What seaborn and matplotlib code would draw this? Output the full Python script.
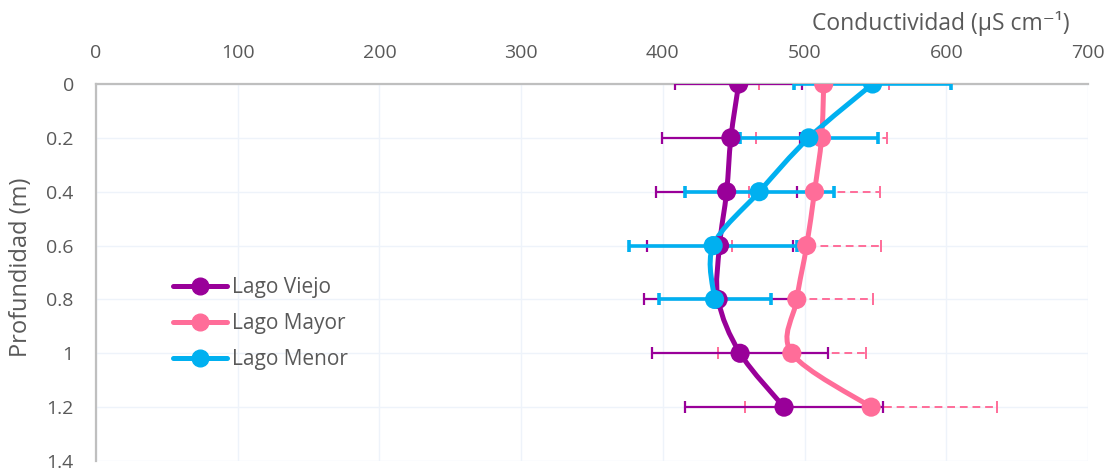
import numpy as np
import pandas as pd
import matplotlib
matplotlib.use("Agg")
import matplotlib.pyplot as plt
from matplotlib.path import Path
from matplotlib.patches import PathPatch
from matplotlib.lines import Line2D
import seaborn as sns

# Depth profile of conductivity (mean ± sd) for three lakes
depth = [0.0, 0.2, 0.4, 0.6, 0.8, 1.0, 1.2]

viejo_mean = [453.5, 448.0, 445.0, 440.0, 439.0, 454.5, 485.5]
viejo_sd = [45.0, 48.5, 49.5, 51.5, 52.0, 62.0, 70.0]

mayor_mean = [513.5, 512.0, 507.0, 501.5, 494.5, 491.0, 547.0]
mayor_sd = [46.0, 46.0, 46.5, 52.5, 53.5, 52.0, 89.0]

menor_depth = [0.0, 0.2, 0.4, 0.6, 0.8]
menor_mean = [548.0, 503.0, 468.0, 435.5, 436.5]
menor_sd = [55.5, 48.5, 52.5, 59.5, 39.5]

series_names = ["Lago Viejo", "Lago Mayor", "Lago Menor"]
colors = {"Lago Viejo": "#990099", "Lago Mayor": "#FF6D99", "Lago Menor": "#00B0F0"}

x_ticks = [0, 100, 200, 300, 400, 500, 600, 700]
y_ticks = [0, 0.2, 0.4, 0.6, 0.8, 1.0, 1.2, 1.4]
y_tick_labels = ["0", "0.2", "0.4", "0.6", "0.8", "1", "1.2", "1.4"]

frames = []
for name, d, m, s in [
    ("Lago Viejo", depth, viejo_mean, viejo_sd),
    ("Lago Mayor", depth, mayor_mean, mayor_sd),
    ("Lago Menor", menor_depth, menor_mean, menor_sd),
]:
    frames.append(pd.DataFrame({"lago": name, "prof": d, "cond": m, "sd": s}))
df = pd.concat(frames, ignore_index=True)

sns.set_theme(style="white")
plt.rcParams["font.family"] = ["Open Sans", "DejaVu Sans"]
text_color = "#595959"

fig = plt.figure(figsize=(11.07, 4.68), dpi=100)
ax = fig.add_axes([96 / 1107, 1 - 461 / 468, (1088 - 96) / 1107, (461 - 84) / 468])


def smooth_path(xs, ys):
    """Excel-style smoothed line: cubic Bezier segments with Catmull-Rom tangents."""
    pts = np.column_stack([xs, ys]).astype(float)
    n = len(pts)
    verts = [pts[0]]
    codes = [Path.MOVETO]
    for i in range(n - 1):
        p0 = pts[max(i - 1, 0)]
        p1 = pts[i]
        p2 = pts[i + 1]
        p3 = pts[min(i + 2, n - 1)]
        c1 = p1 + (p2 - p0) / 6.0
        c2 = p2 - (p3 - p1) / 6.0
        verts += [c1, c2, p2]
        codes += [Path.CURVE4] * 3
    return Path(verts, codes)


# error bars
err_style = {
    "Lago Viejo": dict(lw=1.6, ls="-", capsize=4.5, capthick=1.6),
    "Lago Mayor": dict(lw=1.4, ls=(0, (4, 2.5)), capsize=4.5, capthick=1.4),
    "Lago Menor": dict(lw=2.6, ls="-", capsize=4.5, capthick=2.6),
}
order = ["Lago Mayor", "Lago Viejo", "Lago Menor"]
for z, name in enumerate(order):
    sub = df[df.lago == name]
    st = err_style[name]
    eb = ax.errorbar(sub.cond, sub.prof, xerr=sub.sd, fmt="none",
                     ecolor=colors[name], elinewidth=st["lw"],
                     capsize=st["capsize"], capthick=st["capthick"], zorder=2 + z)
    for coll in eb[2]:
        coll.set_linestyle(st["ls"])

# smoothed profile lines
for z, name in enumerate(order):
    sub = df[df.lago == name]
    patch = PathPatch(smooth_path(sub.cond.values, sub.prof.values), fill=False,
                      edgecolor=colors[name], lw=3.6, capstyle="round",
                      joinstyle="round", zorder=5 + z)
    ax.add_patch(patch)

# markers
sns.scatterplot(data=df, x="cond", y="prof", hue="lago", hue_order=series_names,
                palette=colors, s=190, edgecolor="none", linewidth=0,
                legend=False, ax=ax, zorder=10)

ax.set_xlim(0, 700)
ax.set_ylim(1.4, 0)
ax.set_xticks(x_ticks)
ax.set_yticks(y_ticks)
ax.set_yticklabels(y_tick_labels)
ax.xaxis.tick_top()
ax.tick_params(axis="x", length=0, pad=16, labelsize=14, colors=text_color)
ax.tick_params(axis="y", length=0, pad=16, labelsize=14, colors=text_color)
ax.set_xlabel("")
ax.set_ylabel("Profundidad (m)", fontsize=17, color=text_color, va="center")
ax.yaxis.set_label_coords((21 - 96) / 992, 1 - (267 - 84) / 377)

ax.grid(True, color="#EEF3FA", lw=1.0)
ax.set_axisbelow(True)
for side in ["right", "bottom"]:
    ax.spines[side].set_visible(False)
for side in ["top", "left"]:
    ax.spines[side].set_color("#BFBFBF")
    ax.spines[side].set_linewidth(1.6)

fig.text(1070 / 1107, 1 - 24 / 468, "Conductividad (µS cm⁻¹)",
         ha="right", va="center", fontsize=16.5, color=text_color)

handles = [Line2D([0], [0], color=colors[n], lw=3.6, marker="o", markersize=12)
           for n in series_names]
leg = ax.legend(handles, series_names, loc="upper left",
                bbox_to_anchor=((173 - 96) / 992, 1 - (277 - 84) / 377), frameon=False,
                fontsize=15, handlelength=2.6, handletextpad=0.25,
                labelspacing=0.72, borderaxespad=0, borderpad=0)
for t in leg.get_texts():
    t.set_color(text_color)

fig.savefig("out.png", dpi=100)
